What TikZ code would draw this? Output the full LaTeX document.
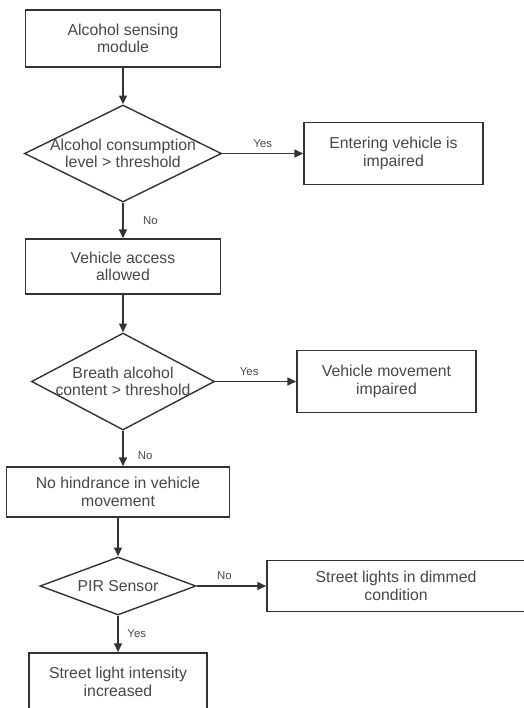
\documentclass[tikz,border=0pt]{standalone}
\usepackage{fontspec}
\setmainfont{Liberation Sans}
\usetikzlibrary{arrows.meta,shapes.geometric}
\definecolor{ink}{HTML}{333333}
\definecolor{txt}{HTML}{474747}
\tikzset{
  box/.style 2 args={draw=ink, line width=0.9pt, rectangle, minimum width=#1*0.02cm, minimum height=#2*0.02cm, inner sep=0pt, text=txt, align=center, font=\fontsize{9}{10}\selectfont},
  dec/.style 2 args={draw=ink, line width=0.8pt, diamond, minimum width=#1*0.02cm, minimum height=#2*0.02cm, inner sep=0pt},
  dtxt/.style={text=txt, align=center, font=\fontsize{9}{10}\selectfont, inner sep=0pt},
  yn/.style={text=txt, font=\fontsize{6.5}{7}\selectfont, inner sep=3pt},
  arr/.style={draw=ink, line width=0.8pt, -{Triangle[length=5pt,width=4.5pt]}},
}

\begin{document}
\begin{tikzpicture}[x=0.02cm, y=-0.02cm]
  \useasboundingbox (0,0) rectangle (524,708);
  \clip (0,0) rectangle (524,708);
  \node[box={195}{57}] (sense) at (123,38.5) {Alcohol sensing\\module};
  \node[dec={197}{97}, label={[dtxt]center:Alcohol consumption\\level  > threshold}] (cons) at (123,153.5) {};
  \node[box={179}{62}] (enter) at (393.5,153.5) {Entering vehicle is\\impaired};
  \node[box={195}{55}] (access) at (123,266.5) {Vehicle access\\allowed};
  \node[dec={183}{97}, label={[dtxt]center:Breath alcohol\\content > threshold}] (breath) at (123,381.5) {};
  \node[box={179}{62}] (move) at (386.5,381.5) {Vehicle movement\\impaired};
  \node[box={223}{50}] (nohind) at (118,492) {No hindrance in vehicle\\movement};
  \node[dec={156}{58}, label={[dtxt]center:PIR Sensor}] (pir) at (118,586) {};
  \node[box={258}{51}] (dim) at (396,586) {Street lights  in dimmed\\condition};
  \node[box={178}{58}] (bright) at (118,682) {Street light intensity\\increased};

  \draw[arr] (sense) -- (cons);
  \draw[arr] (cons) -- node[yn, above] {Yes} (enter);
  \draw[arr] (cons) -- node[yn, right=8pt] {No} (access);
  \draw[arr] (access) -- (breath);
  \draw[arr] (breath) -- node[yn, above, pos=0.42] {Yes} (move);
  \draw[arr] (breath.south) -- node[yn, right=5pt, pos=0.7] {No} (breath.south |- nohind.north);
  \draw[arr] (nohind) -- (pir);
  \draw[arr] (pir) -- node[yn, above, pos=0.4] {No} (dim);
  \draw[arr] (pir) -- node[yn, right=2pt] {Yes} (bright);
\end{tikzpicture}
\end{document}
